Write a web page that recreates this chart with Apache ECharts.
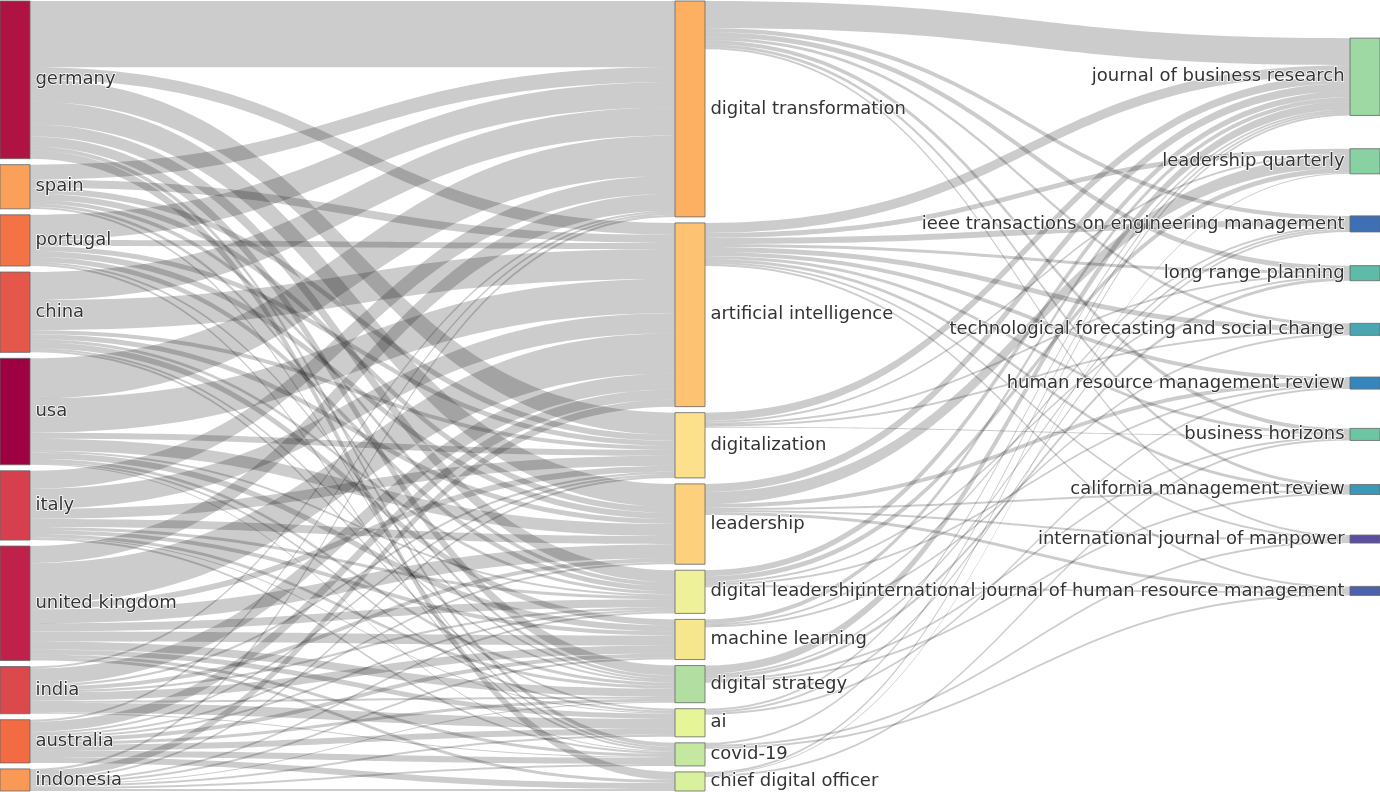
<!DOCTYPE html>
<html>
<head>
<meta charset="utf-8">
<script src="https://cdn.jsdelivr.net/npm/echarts@6/dist/echarts.min.js"></script>
<style>html,body{margin:0;padding:0;background:#fff}#c{width:1380px;height:792px}</style>
</head>
<body>
<div id="c"></div>
<script>
const countries = ['germany','spain','portugal','china','usa','italy','united kingdom','india','australia','indonesia'];
const keywords = ['digital transformation','artificial intelligence','digitalization','leadership','digital leadership','machine learning','digital strategy','ai','covid-19','chief digital officer'];
const journals = ['journal of business research','leadership quarterly','ieee transactions on engineering management','long range planning','technological forecasting and social change','human resource management review','business horizons','california management review','international journal of manpower','international journal of human resource management'];

// rows: countries, columns: keywords
const countryKeyword = [
  [66,12,22,23,12,0,10,0,4,8],
  [15,8,6,6,4,0,3,0,2,0],
  [25,6,5,6,5,0,2,0,2,0],
  [28,30,4,5,3,6,2,2,0,0],
  [40,34,6,12,2,6,3,2,1,0],
  [18,20,10,8,3,4,3,1,2,0],
  [17,40,6,14,8,10,8,5,3,3],
  [2,16,2,4,2,8,2,10,1,0],
  [2,10,2,2,2,4,3,6,6,6],
  [2,7,2,0,2,2,1,2,2,2]
];
// rows: keywords, columns: journals
const keywordJournal = [
  [27,0,4,5,3,0,4,3,2,0],
  [10,5,6,3,5,4,3,3,2,2],
  [8,2,0,2,2,0,1,0,0,0],
  [8,12,0,0,0,4,0,2,2,3],
  [6,5,0,2,0,2,0,0,0,2],
  [4,0,2,0,2,0,0,0,0,0],
  [8,0,2,3,0,0,2,2,0,0],
  [2,0,2,0,0,2,0,0,0,0],
  [2,0,0,0,0,0,0,0,2,2],
  [2,1,0,0,0,0,2,0,0,0]
];

// styles
const countryColors = ['#AE1344','#FBA05B','#F47346','#E5574A','#9E0142','#D6404E','#C0214A','#DC494C','#F26B43','#FA9856'];
const keywordColors = ['#FDB062','#FDC373','#FDE08B','#FDD07E','#EFF09A','#F6E78F','#B2DEA2','#E6F598','#C5E8A0','#D9F09C'];
const journalColors = ['#9ED9A4','#88D1A3','#3F6FB4','#5DBBA7','#4AA6B0','#3486BC','#6CC6A4','#3A98B9','#5C4FA2','#4C62AD'];
// layout: vertical placement of the journal column (fraction of plot height)
const journalSlots = [0.047,0.187,0.272,0.335,0.408,0.476,0.541,0.612,0.676,0.741];

const nodes = [];
countries.forEach((n,i)=>nodes.push({name:n, itemStyle:{color:countryColors[i]}}));
keywords.forEach((n,i)=>nodes.push({name:n, itemStyle:{color:keywordColors[i]}}));
journals.forEach((n,i)=>nodes.push({name:n, localY:journalSlots[i], itemStyle:{color:journalColors[i]}, label:{position:'left'}}));

const links = [];
countryKeyword.forEach((row,i)=>row.forEach((v,j)=>{ if(v>0) links.push({source:countries[i], target:keywords[j], value:v}); }));
keywordJournal.forEach((row,i)=>row.forEach((v,j)=>{ if(v>0) links.push({source:keywords[i], target:journals[j], value:v}); }));

const chart = echarts.init(document.getElementById('c'), null, {renderer:'canvas'});
chart.setOption({
  backgroundColor:'#fff',
  animation:false,
  series:[{
    type:'sankey',
    left:0, right:0, top:1, bottom:1,
    nodeWidth:30,
    nodeGap:6,
    draggable:false,
    layoutIterations:0,
    emphasis:{disabled:true},
    data:nodes,
    links:links,
    itemStyle:{borderColor:'#666', borderWidth:0.8},
    lineStyle:{color:'#000', opacity:0.2, curveness:0.5},
    label:{
      position:'right',
      distance:5,
      fontFamily:'DejaVu Sans, Verdana, sans-serif',
      fontSize:18,
      color:'#333',
      textBorderColor:'#fff',
      textBorderWidth:1.5
    }
  }]
});
</script>
</body>
</html>
